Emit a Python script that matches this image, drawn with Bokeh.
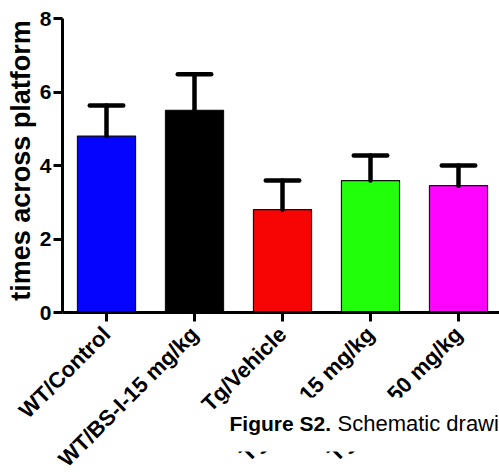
from bokeh.plotting import figure
from bokeh.models import Range1d, FixedTicker, Label, BoxAnnotation
from bokeh.core.properties import value
from bokeh.embed import file_html
from bokeh.resources import INLINE
import math

categories = ["WT/Control", "WT/BS-I-15 mg/kg", "Tg/Vehicle", "Tg/BS-I-15 mg/kg", "Tg/BS-I-50 mg/kg"]
means = [4.8, 5.5, 2.8, 3.59, 3.45]
sems = [0.83, 0.98, 0.79, 0.68, 0.55]
colors = ["#0505ff", "#000000", "#f70505", "#22ff0a", "#ff05ff"]
y_ticks = [0, 2, 4, 6, 8]
y_label = "times across platform"

xs = list(range(len(categories)))
tops = [m + s for m, s in zip(means, sems)]

# pixel helpers (picture coords -> data)
def dx(px):
    return (px - 106) / 88

def dy(py):
    return (312 - py) / 36.75

W, H = 499, 472
p = figure(width=W, height=H, output_backend="svg", toolbar_location=None,
           x_range=Range1d(dx(0), dx(W)), y_range=Range1d(dy(H), dy(0)),
           min_border=0, min_border_left=0, min_border_right=0, min_border_top=0, min_border_bottom=0)
p.outline_line_color = None
p.xgrid.visible = False
p.ygrid.visible = False

p.vbar(x=xs, top=means, width=0.66, bottom=0, fill_color=colors, line_color="#111111", line_width=1.2)
p.segment(x0=xs, y0=means, x1=xs, y1=tops, line_color="black", line_width=4.5, line_cap="round")
p.segment(x0=[x - 0.19 for x in xs], y0=tops, x1=[x + 0.19 for x in xs], y1=tops,
          line_color="black", line_width=4.5, line_cap="round")

font = "Liberation Sans"
yax = p.yaxis[0]
yax.fixed_location = -0.5
yax.bounds = (0, 8)
yax.ticker = FixedTicker(ticks=y_ticks)
yax.minor_tick_line_color = None
yax.major_tick_in = 0
yax.major_tick_out = 9
yax.major_tick_line_width = 3
yax.axis_line_width = 3
yax.major_label_text_font = font
yax.major_label_text_font_style = "bold"
yax.major_label_text_font_size = "21px"
yax.major_label_text_color = "black"
yax.major_label_standoff = 2

xax = p.xaxis[0]
xax.fixed_location = 0
xax.bounds = (-0.5, dx(W))
xax.ticker = FixedTicker(ticks=xs)
xax.major_label_overrides = {i: c for i, c in zip(xs, categories)}
xax.minor_tick_line_color = None
xax.major_tick_in = 0
xax.major_tick_out = 9
xax.major_tick_line_width = 3
xax.axis_line_width = 3
xax.major_label_orientation = math.pi / 4
xax.major_label_text_font = font
xax.major_label_text_font_style = "bold"
xax.major_label_text_font_size = "22px"
xax.major_label_text_color = "black"
xax.major_label_standoff = 9

# y axis title
p.text(x=[dx(20)], y=[dy(160)], text=[y_label], angle=math.pi / 2, text_align="center",
       text_baseline="middle", text_font=value(font), text_font_style="bold",
       text_font_size="27px", text_color="black")

# caption overlapping the lower part of the figure
box = BoxAnnotation(left=dx(228), right=dx(W + 40), top=dy(397), bottom=dy(451),
                    fill_color="white", fill_alpha=1.0, line_color=None, level="overlay")
p.add_layout(box)
p.add_layout(Label(x=dx(229), y=dy(423), text="Figure S2.", text_font=font, text_font_style="bold",
                   text_font_size="21px", text_color="black", text_baseline="alphabetic", level="overlay"))
p.add_layout(Label(x=dx(337), y=dy(423), text="Schematic drawing", text_font=font,
                   text_font_size="22px", text_color="black", text_baseline="alphabetic", level="overlay"))

open("out.html", "w").write(file_html(p, INLINE))
